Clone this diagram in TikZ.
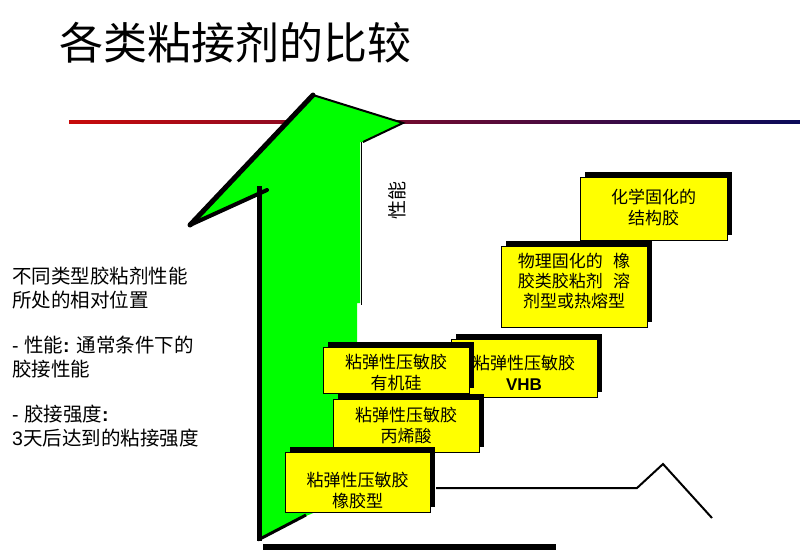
\documentclass[tikz,border=0pt]{standalone}
\usepackage{fontspec}
\setmainfont{Liberation Sans}
\newfontfamily\cjk{Noto Sans CJK SC}
\usetikzlibrary{shadows}
\definecolor{arrowgreen}{RGB}{0,255,0}
\definecolor{boxyellow}{RGB}{255,255,0}
\definecolor{lineleft}{RGB}{200,10,10}
\definecolor{linemid}{RGB}{110,0,30}
\definecolor{lineright}{RGB}{10,10,90}
\tikzset{
  box/.style={draw=black, line width=0.9pt, fill=boxyellow, inner sep=0pt,
    general shadow={fill=black, shadow xshift=5pt, shadow yshift=5pt}},
  boxtext/.style={align=center, font=\cjk\fontsize{17}{21}\selectfont, inner sep=0pt},
  sidetext/.style={anchor=north west, align=left, inner sep=0pt,
    font=\fontsize{19.5}{24}\selectfont},
  thinline/.style={line width=2pt, line join=miter}
}
\begin{document}
\begin{tikzpicture}[x=1pt,y=-1pt]
\useasboundingbox (0,0) rectangle (800,550);
\fill[white] (0,0) rectangle (800,550);
% title
\node[anchor=west, inner sep=0pt, font=\cjk\fontsize{44}{46}\selectfont] (title) at (59,43) {各类粘接剂的比较};
% gradient rule
\shade[left color=lineleft, middle color=linemid, right color=lineright] (69,120.5) rectangle (800,123);
% arrow
\fill[arrowgreen] (258,540) -- (258,186) -- (266,190) -- (190,225) -- (313,95) -- (403,123)
  -- (363,142) -- (360,142) -- (360,303) -- (357,303) -- (357,495) -- (306,516) -- cycle;
\draw[line width=5pt] (259,186) -- (259,541);
\draw[line width=4pt, line cap=round] (190,225) -- (267,190);
\draw[line width=5pt, line cap=round] (190,225) -- (313,95);
\draw[line width=2pt] (313,95) -- (403,123) -- (363,142);
\draw[line width=0.8pt] (361,142) -- (361,305);
\draw[line width=3pt] (258,540) -- (306,515);
% axis label
\node[rotate=90, inner sep=0pt, font=\cjk\fontsize{19}{19}\selectfont] (perf) at (397,200) {性能};
% bottom bar
\fill[black] (263,544) rectangle (556,550);
% boxes
\node[box, minimum width=147pt, minimum height=63pt] (chem) at (653.5,208.5) {};
\node[boxtext] at ([yshift=1pt]chem.center) {化学固化的\\结构胶};
\node[box, minimum width=146pt, minimum height=81pt] (phys) at (574,286.5) {};
\node[boxtext, font=\cjk\fontsize{17}{20}\selectfont] at ([yshift=5pt]phys.center) {物理固化的\hspace{0.6em}橡\\胶类胶粘剂\hspace{0.6em}溶\\剂型或热熔型};
\node[box, minimum width=146pt, minimum height=58pt] (vhb) at (524,368) {};
\node[boxtext] at ([yshift=-5pt]vhb.center) {粘弹性压敏胶\\{\fontspec{Liberation Sans}\bfseries VHB}};
\node[box, minimum width=146pt, minimum height=46pt] (silic) at (396,370) {};
\node[boxtext] at ([yshift=-2pt]silic.center) {粘弹性压敏胶\\有机硅};
\node[box, minimum width=146pt, minimum height=53pt] (acryl) at (406,425.5) {};
\node[boxtext] at (acryl.center) {粘弹性压敏胶\\丙烯酸};
\node[box, minimum width=145pt, minimum height=60pt] (rubber) at (357.5,482) {};
\node[boxtext] at ([yshift=-9pt]rubber.center) {粘弹性压敏胶\\橡胶型};
% right polyline
\coordinate (q0) at (436,488);
\coordinate (q1) at (637,488);
\coordinate (q2) at (663,464);
\coordinate (q3) at (712,518);
\draw[thinline] (q0) -- (q1) -- (q2) -- (q3);
% side text
\node[sidetext] (side) at (12,267) {%
{\cjk 不同类型胶粘剂性能}\\
{\cjk 所处的相对位置}\\[21pt]
- {\cjk 性能}\textbf{:} {\cjk 通常条件下的}\\
{\cjk 胶接性能}\\[21pt]
- {\cjk 胶接强度}\textbf{:}\\
3{\cjk 天后达到的粘接强度}};
\end{tikzpicture}
\end{document}
